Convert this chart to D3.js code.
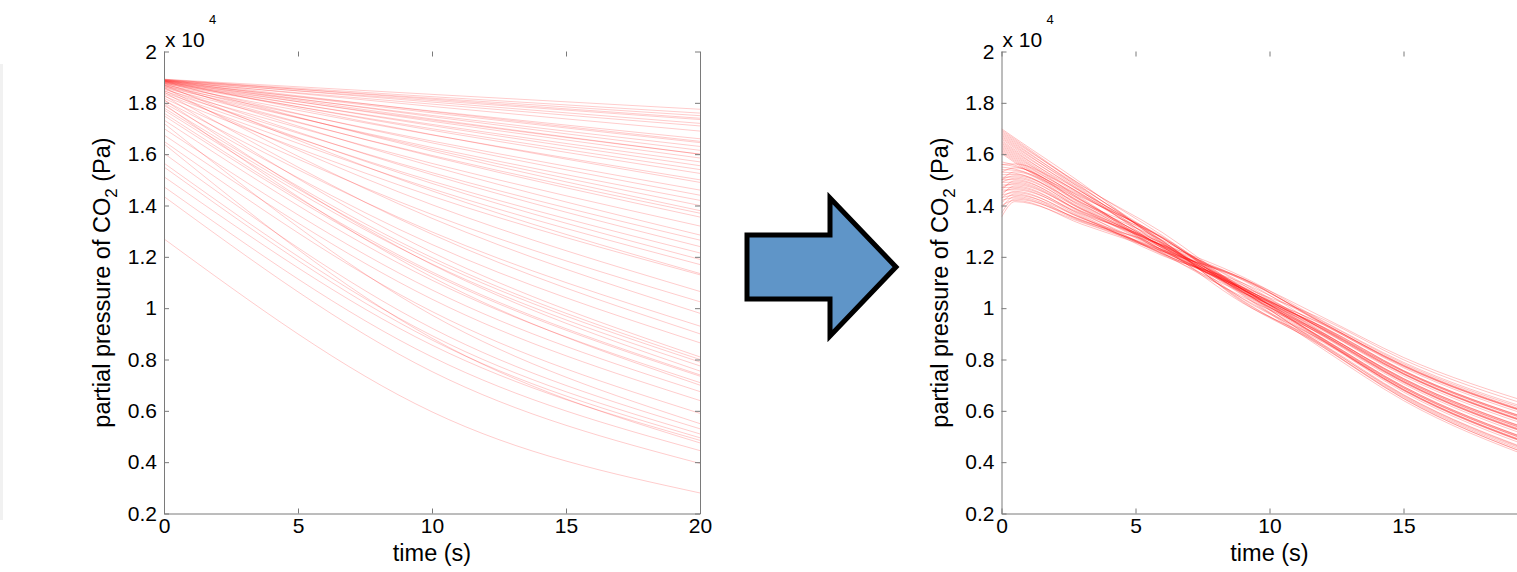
<!DOCTYPE html>
<html>
<head>
<meta charset="utf-8">
<script src="https://cdn.jsdelivr.net/npm/d3@7/dist/d3.min.js"></script>
<style>
  html, body { margin: 0; padding: 0; background: #fff; overflow: hidden; }
  svg { display: block; }
  text { font-family: "Liberation Sans", Arial, Helvetica, sans-serif; fill: #000; }
</style>
</head>
<body>
<svg id="chart" width="1517" height="572"></svg>
<script>
// ---------- data (values in units of 10^4 Pa) ----------
const xTicks = [0, 5, 10, 15, 20];
const yTicks = [0.2, 0.4, 0.6, 0.8, 1.0, 1.2, 1.4, 1.6, 1.8, 2.0];
const yTickLabels = ["0.2", "0.4", "0.6", "0.8", "1", "1.2", "1.4", "1.6", "1.8", "2"];
const xLabel = "time (s)";
const yLabelMain = "partial pressure of CO";
const yLabelSub = "2";
const yLabelTail = " (Pa)";
const exponentBase = "x 10";
const exponentPower = "4";

// left panel: each curve sampled at leftTime
const leftTime = [0, 10, 20];
const leftCurves = [
  [1.892, 1.833, 1.775], [1.890, 1.824, 1.760], [1.888, 1.818, 1.750], [1.892, 1.814, 1.740],
  [1.886, 1.809, 1.735], [1.890, 1.803, 1.720], [1.884, 1.795, 1.710], [1.888, 1.786, 1.690],
  [1.882, 1.768, 1.660], [1.890, 1.766, 1.650], [1.886, 1.761, 1.645], [1.880, 1.751, 1.630],
  [1.888, 1.746, 1.615], [1.878, 1.733, 1.600], [1.886, 1.737, 1.600], [1.884, 1.728, 1.585],
  [1.876, 1.716, 1.570], [1.882, 1.711, 1.555], [1.874, 1.699, 1.540], [1.880, 1.693, 1.525],
  [1.870, 1.675, 1.500], [1.886, 1.676, 1.490], [1.866, 1.651, 1.460], [1.878, 1.644, 1.440],
  [1.862, 1.626, 1.420], [1.872, 1.619, 1.400], [1.884, 1.612, 1.380], [1.858, 1.595, 1.370],
  [1.868, 1.591, 1.355], [1.852, 1.564, 1.320], [1.876, 1.553, 1.285], [1.846, 1.528, 1.265],
  [1.864, 1.520, 1.240], [1.840, 1.495, 1.215], [1.856, 1.486, 1.190], [1.834, 1.465, 1.170],
  [1.870, 1.457, 1.135], [1.826, 1.436, 1.130], [1.848, 1.403, 1.065], [1.818, 1.365, 1.025],
  [1.860, 1.350, 0.980], [1.810, 1.297, 0.930], [1.842, 1.288, 0.900], [1.800, 1.248, 0.865],
  [1.830, 1.218, 0.810], [1.790, 1.197, 0.800], [1.780, 1.186, 0.790], [1.772, 1.172, 0.775],
  [1.812, 1.170, 0.755], [1.760, 1.141, 0.740], [1.750, 1.134, 0.735], [1.733, 1.109, 0.710],
  [1.795, 1.121, 0.700], [1.700, 1.071, 0.675], [1.675, 1.035, 0.640], [1.650, 0.987, 0.590],
  [1.720, 0.973, 0.550], [1.603, 0.922, 0.530], [1.565, 0.893, 0.510], [1.550, 0.876, 0.495],
  [1.512, 0.856, 0.485], [1.640, 0.883, 0.475], [1.473, 0.810, 0.445], [1.435, 0.753, 0.395],
  [1.270, 0.596, 0.280]
];

// right panel: each curve sampled at rightTime
const rightTime = [0, 0.5, 3, 6, 9, 12, 15, 20];
const rightCurves = [
  [1.355, 1.415, 1.334, 1.222, 1.116, 0.938, 0.774, 0.580],
  [1.400, 1.420, 1.327, 1.218, 1.082, 0.957, 0.799, 0.611],
  [1.370, 1.425, 1.344, 1.222, 1.115, 0.964, 0.808, 0.623],
  [1.420, 1.430, 1.337, 1.223, 1.069, 0.938, 0.773, 0.579],
  [1.390, 1.435, 1.342, 1.228, 1.116, 0.942, 0.779, 0.585],
  [1.430, 1.440, 1.351, 1.212, 1.078, 0.922, 0.752, 0.552],
  [1.410, 1.445, 1.340, 1.247, 1.122, 0.950, 0.789, 0.598],
  [1.440, 1.450, 1.353, 1.205, 1.098, 0.941, 0.776, 0.582],
  [1.430, 1.455, 1.350, 1.236, 1.074, 0.925, 0.755, 0.556],
  [1.460, 1.461, 1.365, 1.228, 1.111, 0.947, 0.784, 0.592],
  [1.450, 1.466, 1.356, 1.209, 1.060, 0.927, 0.757, 0.558],
  [1.470, 1.471, 1.368, 1.255, 1.098, 0.916, 0.743, 0.540],
  [1.440, 1.476, 1.361, 1.214, 1.076, 0.935, 0.768, 0.571],
  [1.480, 1.481, 1.378, 1.246, 1.114, 0.942, 0.777, 0.582],
  [1.470, 1.486, 1.371, 1.212, 1.090, 0.915, 0.742, 0.539],
  [1.490, 1.491, 1.376, 1.243, 1.080, 0.919, 0.747, 0.545],
  [1.460, 1.496, 1.385, 1.245, 1.076, 0.899, 0.720, 0.511],
  [1.500, 1.501, 1.374, 1.242, 1.071, 0.927, 0.757, 0.558],
  [1.490, 1.506, 1.387, 1.228, 1.080, 0.918, 0.745, 0.542],
  [1.510, 1.511, 1.384, 1.224, 1.067, 0.902, 0.724, 0.515],
  [1.500, 1.516, 1.398, 1.244, 1.109, 0.924, 0.753, 0.552],
  [1.520, 1.521, 1.389, 1.243, 1.081, 0.904, 0.726, 0.518],
  [1.530, 1.526, 1.401, 1.251, 1.062, 0.893, 0.711, 0.499],
  [1.500, 1.531, 1.394, 1.237, 1.073, 0.912, 0.736, 0.531],
  [1.540, 1.537, 1.412, 1.234, 1.062, 0.919, 0.745, 0.542],
  [1.550, 1.542, 1.405, 1.227, 1.072, 0.893, 0.711, 0.498],
  [1.530, 1.547, 1.410, 1.276, 1.074, 0.897, 0.716, 0.505],
  [1.560, 1.552, 1.419, 1.240, 1.074, 0.877, 0.689, 0.471],
  [1.570, 1.557, 1.408, 1.265, 1.092, 0.905, 0.726, 0.517],
  [1.560, 1.562, 1.421, 1.217, 1.044, 0.896, 0.714, 0.502],
  [1.603, 1.567, 1.418, 1.241, 1.065, 0.880, 0.692, 0.475],
  [1.608, 1.572, 1.432, 1.278, 1.058, 0.902, 0.721, 0.511],
  [1.613, 1.577, 1.423, 1.238, 1.063, 0.882, 0.695, 0.477],
  [1.618, 1.582, 1.435, 1.274, 1.056, 0.871, 0.680, 0.459],
  [1.623, 1.587, 1.428, 1.225, 1.072, 0.890, 0.705, 0.490],
  [1.628, 1.592, 1.445, 1.249, 1.084, 0.897, 0.714, 0.501],
  [1.633, 1.597, 1.438, 1.260, 1.036, 0.871, 0.679, 0.458],
  [1.638, 1.602, 1.443, 1.272, 1.072, 0.875, 0.684, 0.464],
  [1.643, 1.607, 1.452, 1.264, 1.023, 0.854, 0.657, 0.430],
  [1.648, 1.612, 1.441, 1.254, 1.074, 0.882, 0.695, 0.477],
  [1.653, 1.617, 1.454, 1.233, 1.038, 0.873, 0.682, 0.461],
  [1.659, 1.623, 1.452, 1.274, 1.063, 0.857, 0.661, 0.434],
  [1.664, 1.628, 1.466, 1.273, 1.080, 0.879, 0.690, 0.471],
  [1.669, 1.633, 1.457, 1.261, 1.027, 0.859, 0.663, 0.437],
  [1.674, 1.638, 1.469, 1.262, 1.053, 0.848, 0.648, 0.418],
  [1.679, 1.643, 1.462, 1.241, 1.020, 0.867, 0.673, 0.450],
  [1.684, 1.648, 1.479, 1.283, 1.065, 0.874, 0.683, 0.461],
  [1.689, 1.653, 1.472, 1.256, 1.030, 0.848, 0.648, 0.417],
  [1.694, 1.658, 1.477, 1.295, 1.070, 0.852, 0.653, 0.424],
  [1.699, 1.663, 1.486, 1.252, 1.050, 0.840, 0.640, 0.410]
];

// ---------- layout ----------
const W = 1517;
const svg = d3.select("#chart");
const FONT = 21;
const LABEL_FONT = 23.5;
const AXIS_COLOR = "#7a7a7a";
const panels = [
  { id: "L", left: 164, right: 700, time: leftTime, curves: leftCurves, rightAxis: true, opacity: 0.2 },
  { id: "R", left: 1001.5, right: 1537.5, time: rightTime, curves: rightCurves, rightAxis: false, opacity: 0.24 }
];
const plotTop = 51.5, plotBottom = 513.5;

// faint edge at the far left of the picture
svg.append("rect").attr("x", 0).attr("y", 64).attr("width", 3).attr("height", 456).attr("fill", "#f1f1f1");

panels.forEach(p => {
  const x = d3.scaleLinear().domain([0, 20]).range([p.left, p.right]);
  const y = d3.scaleLinear().domain([0.2, 2.0]).range([plotBottom, plotTop]);
  const visTicks = xTicks.filter(t => x(t) < W - 8);
  const g = svg.append("g");

  g.append("clipPath").attr("id", "clip" + p.id)
    .append("rect").attr("x", p.left).attr("y", plotTop).attr("width", p.right - p.left).attr("height", plotBottom - plotTop);

  const line = d3.line()
    .x((d, i) => x(p.time[i]))
    .y(d => y(d))
    .curve(d3.curveMonotoneX);

  g.append("g").attr("clip-path", `url(#clip${p.id})`)
    .selectAll("path").data(p.curves).join("path")
    .attr("d", line)
    .attr("fill", "none")
    .attr("stroke", "#ff0000")
    .attr("stroke-opacity", p.opacity)
    .attr("stroke-width", 1);

  // left axis
  g.append("g").attr("transform", `translate(${p.left},0)`)
    .call(d3.axisLeft(y).tickValues(yTicks).tickFormat((d, i) => yTickLabels[i])
      .tickSizeInner(-5).tickSizeOuter(0).tickPadding(7));
  // bottom axis
  g.append("g").attr("transform", `translate(0,${plotBottom})`)
    .call(d3.axisBottom(x).tickValues(visTicks).tickFormat(d3.format("d"))
      .tickSizeInner(-5).tickSizeOuter(0).tickPadding(5));
  // top ticks (no line)
  const tx = g.append("g").attr("transform", `translate(0,${plotTop})`)
    .call(d3.axisTop(x).tickValues(visTicks).tickFormat("").tickSizeInner(-5).tickSizeOuter(0));
  tx.select(".domain").remove();
  if (p.rightAxis) {
    g.append("g").attr("transform", `translate(${p.right},0)`)
      .call(d3.axisRight(y).tickValues(yTicks).tickFormat("").tickSizeInner(-5).tickSizeOuter(0));
  }
  g.selectAll(".domain, .tick line").attr("stroke", AXIS_COLOR);
  g.selectAll(".tick text").attr("font-size", FONT).attr("fill", "#000")
    .attr("font-family", '"Liberation Sans", Arial, sans-serif');

  // exponent label
  g.append("text").attr("x", p.left + 1).attr("y", 47).attr("font-size", FONT).text(exponentBase);
  g.append("text").attr("x", p.left + 45).attr("y", 23.5).attr("font-size", 13).text(exponentPower);

  // axis titles
  g.append("text").attr("x", (p.left + p.right) / 2).attr("y", 561)
    .attr("text-anchor", "middle").attr("font-size", LABEL_FONT).text(xLabel);
  const yl = g.append("text")
    .attr("transform", `translate(${p.left - 54},${(plotTop + plotBottom) / 2}) rotate(-90)`)
    .attr("text-anchor", "middle").attr("font-size", LABEL_FONT);
  yl.append("tspan").text(yLabelMain);
  yl.append("tspan").attr("dy", 7).attr("font-size", 17).text(yLabelSub);
  yl.append("tspan").attr("dy", -7).text(yLabelTail);
});

// ---------- arrow between the panels ----------
const arrow = { x0: 747, x1: 830, x2: 896, yMid: 267, bodyHalf: 32, headHalf: 69 };
const arrowPts = [
  [arrow.x0, arrow.yMid - arrow.bodyHalf],
  [arrow.x1, arrow.yMid - arrow.bodyHalf],
  [arrow.x1, arrow.yMid - arrow.headHalf],
  [arrow.x2, arrow.yMid],
  [arrow.x1, arrow.yMid + arrow.headHalf],
  [arrow.x1, arrow.yMid + arrow.bodyHalf],
  [arrow.x0, arrow.yMid + arrow.bodyHalf]
];
svg.append("path")
  .attr("d", d3.line()(arrowPts) + "Z")
  .attr("fill", "#5f95c8")
  .attr("stroke", "#000")
  .attr("stroke-width", 5)
  .attr("stroke-linejoin", "miter");
</script>
</body>
</html>
